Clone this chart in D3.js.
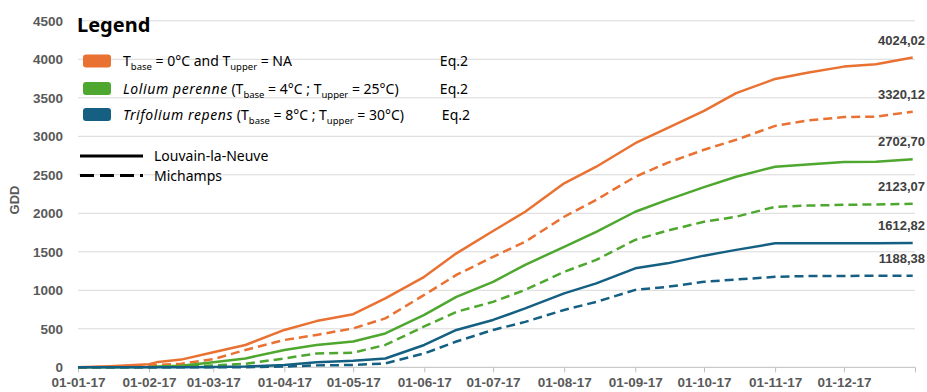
<!DOCTYPE html>
<html>
<head>
<meta charset="utf-8">
<script src="https://cdn.jsdelivr.net/npm/d3@7"></script>
<style>
  body { margin: 0; background: #fff; }
  #chart text { font-family: "Liberation Sans", Arial, sans-serif; }
</style>
</head>
<body>
<div id="chart"></div>
<script>
// chart size
var width = 927, height = 392;

// data (cumulative GDD)
var dates = ["2017-01-01", "2017-01-15", "2017-02-01", "2017-02-05", "2017-02-15", "2017-03-01",
             "2017-03-15", "2017-04-01", "2017-04-15", "2017-05-01", "2017-05-15", "2017-06-01",
             "2017-06-15", "2017-07-01", "2017-07-15", "2017-08-01", "2017-08-15", "2017-09-01",
             "2017-09-15", "2017-10-01", "2017-10-15", "2017-11-01", "2017-11-15", "2017-12-01",
             "2017-12-15", "2017-12-31"];

var lln0 = [0, 15, 40, 70, 100, 195, 290, 485, 600, 690, 895, 1175, 1480, 1770, 2020, 2390,
            2605, 2910, 3105, 3330, 3560, 3745, 3825, 3905, 3935, 4024.02];
var mic0 = [0, 5, 20, 30, 45, 105, 225, 355, 420, 505, 635, 940, 1200, 1435, 1630, 1955,
            2175, 2475, 2655, 2825, 2955, 3135, 3205, 3250, 3255, 3320.12];
var lln4 = [0, 0, 5, 10, 20, 65, 115, 225, 290, 335, 440, 680, 915, 1110, 1330, 1565,
            1760, 2020, 2175, 2340, 2475, 2605, 2635, 2665, 2670, 2702.70];
var mic4 = [0, 0, 0, 2, 8, 25, 45, 115, 180, 190, 290, 530, 720, 850, 1005, 1240,
            1395, 1655, 1775, 1890, 1955, 2085, 2100, 2110, 2115, 2123.07];
var lln8 = [0, 0, 0, 0, 2, 5, 10, 30, 65, 85, 115, 290, 485, 615, 765, 960,
            1090, 1285, 1350, 1450, 1525, 1610, 1612, 1612, 1612.5, 1612.82];
var mic8 = [0, 0, 0, 0, 0, 0, 2, 10, 25, 30, 50, 180, 335, 485, 590, 745,
            850, 1005, 1045, 1110, 1140, 1175, 1185, 1187, 1188, 1188.38];

var yTicks = [0, 500, 1000, 1500, 2000, 2500, 3000, 3500, 4000, 4500];

var colors = {orange: "#E97132", green: "#4EA72E", blue: "#156082"};

var series = [
  {values: lln0, color: colors.orange, dashed: false},
  {values: mic0, color: colors.orange, dashed: true},
  {values: lln4, color: colors.green, dashed: false},
  {values: mic4, color: colors.green, dashed: true},
  {values: lln8, color: colors.blue, dashed: false},
  {values: mic8, color: colors.blue, dashed: true}
];

var parse = d3.timeParse("%Y-%m-%d");
var dateObjs = dates.map(parse);

var svg = d3.select("#chart").append("svg")
    .attr("width", width)
    .attr("height", height);

var x = d3.scaleTime()
    .domain([parse("2017-01-01"), parse("2018-01-01")])
    .range([78, 915]);

var y = d3.scaleLinear()
    .domain([0, 4500])
    .range([367.3, 20.8]);

// gridlines
svg.append("g")
   .selectAll("line")
   .data(yTicks.slice(1))
   .enter().append("line")
     .attr("x1", x.range()[0])
     .attr("x2", x.range()[1])
     .attr("y1", d => y(d))
     .attr("y2", d => y(d))
     .style("stroke", "#D9D9D9")
     .style("stroke-width", 1);

// y axis labels
var yAxis = svg.append("g")
    .attr("transform", "translate(" + x.range()[0] + ",0)")
    .call(d3.axisLeft(y).tickValues(yTicks).tickFormat(d3.format("d")).tickSize(0).tickPadding(15));
yAxis.select(".domain").remove();
yAxis.selectAll("text")
     .style("font-size", "13.5px")
     .style("font-weight", "bold")
     .style("fill", "#595959");

// x axis
var monthTicks = d3.timeMonth.range(parse("2017-01-01"), parse("2018-01-02"));
var fmt = d3.timeFormat("%d-%m-%y");
var xAxis = svg.append("g")
    .attr("transform", "translate(0," + y(0) + ")")
    .call(d3.axisBottom(x)
            .tickValues(monthTicks)
            .tickSize(5)
            .tickPadding(5)
            .tickFormat(d => d.getFullYear() == 2018 ? "" : fmt(d)));
xAxis.select(".domain").style("stroke", "#BFBFBF").attr("d", "M" + x.range()[0] + ",0H" + x.range()[1]);
xAxis.selectAll(".tick line").style("stroke", "#BFBFBF");
xAxis.selectAll("text")
     .style("font-size", "13.5px")
     .style("font-weight", "bold")
     .style("fill", "#595959");

// GDD title
svg.append("text")
   .attr("transform", "translate(19,200) rotate(-90)")
   .attr("text-anchor", "middle")
   .style("font-size", "13px")
   .style("font-weight", "bold")
   .style("fill", "#595959")
   .text("GDD");

// lines
var line = d3.line()
    .x((d, i) => x(dateObjs[i]))
    .y(d => y(d));

series.forEach(function(s) {
  svg.append("path")
     .datum(s.values)
     .attr("d", line)
     .style("fill", "none")
     .style("stroke", s.color)
     .style("stroke-width", 2.5)
     .style("stroke-linejoin", "round")
     .style("stroke-dasharray", s.dashed ? "9,5" : null);
});

// end value labels
series.forEach(function(s) {
  var last = s.values[s.values.length - 1];
  svg.append("text")
     .attr("x", 925)
     .attr("y", y(last) - 17.5)
     .attr("dy", "0.35em")
     .attr("text-anchor", "end")
     .style("font-size", "13px")
     .style("font-weight", "bold")
     .style("fill", "#404040")
     .text(d3.format(".2f")(last).replace(".", ","));
});

// legend
var lg = svg.append("g").attr("class", "legend");
lg.append("text")
  .attr("x", 77)
  .attr("y", 32)
  .style("font-family", "'Noto Sans', sans-serif")
  .style("font-size", "20px")
  .style("font-weight", "bold")
  .style("fill", "#000")
  .text("Legend");

var legendRows = [
  {color: colors.orange, cy: 61, eqX: 468,
   parts: [{t: "T"}, {t: "base", sub: true}, {t: " = 0°C and T"}, {t: "upper", sub: true}, {t: " = NA"}]},
  {color: colors.green, cy: 88.5, eqX: 468,
   parts: [{t: "Lolium perenne", it: true}, {t: " (T"}, {t: "base", sub: true}, {t: " = 4°C ; T"}, {t: "upper", sub: true}, {t: " = 25°C)"}]},
  {color: colors.blue, cy: 114.5, eqX: 470,
   parts: [{t: "Trifolium repens", it: true}, {t: " (T"}, {t: "base", sub: true}, {t: " = 8°C ; T"}, {t: "upper", sub: true}, {t: " = 30°C)"}]}
];

legendRows.forEach(function(r) {
  lg.append("rect")
    .attr("x", 83).attr("y", r.cy - 6.5)
    .attr("width", 28).attr("height", 13)
    .attr("rx", 3)
    .style("fill", r.color);
  var t = lg.append("text")
    .attr("x", 123)
    .attr("y", r.cy + 5)
    .style("font-family", "'Noto Sans', sans-serif")
    .style("font-size", "14px")
    .style("fill", "#000");
  var shifted = false;
  r.parts.forEach(function(p) {
    var ts = t.append("tspan").text(p.t);
    if (p.it) ts.style("font-style", "italic").attr("letter-spacing", 0.6);
    if (p.sub) {
      ts.style("font-size", "9.5px").attr("dy", 4);
      shifted = true;
    } else if (shifted) {
      ts.attr("dy", -4);
      shifted = false;
    }
  });
  lg.append("text")
    .attr("x", r.eqX)
    .attr("y", r.cy + 5)
    .attr("text-anchor", "end")
    .style("font-family", "'Noto Sans', sans-serif")
    .style("font-size", "14px")
    .style("fill", "#000")
    .text("Eq.2");
});

var siteRows = [
  {label: "Louvain-la-Neuve", cy: 156, dash: null},
  {label: "Michamps", cy: 175.5, dash: "14,6"}
];
siteRows.forEach(function(r) {
  lg.append("line")
    .attr("x1", 80).attr("x2", 143)
    .attr("y1", r.cy).attr("y2", r.cy)
    .style("stroke", "#000")
    .style("stroke-width", 3)
    .style("stroke-dasharray", r.dash);
  lg.append("text")
    .attr("x", 154)
    .attr("y", r.cy + 5)
    .style("font-family", "'Noto Sans', sans-serif")
    .style("font-size", "14px")
    .style("fill", "#000")
    .text(r.label);
});
</script>
</body>
</html>
